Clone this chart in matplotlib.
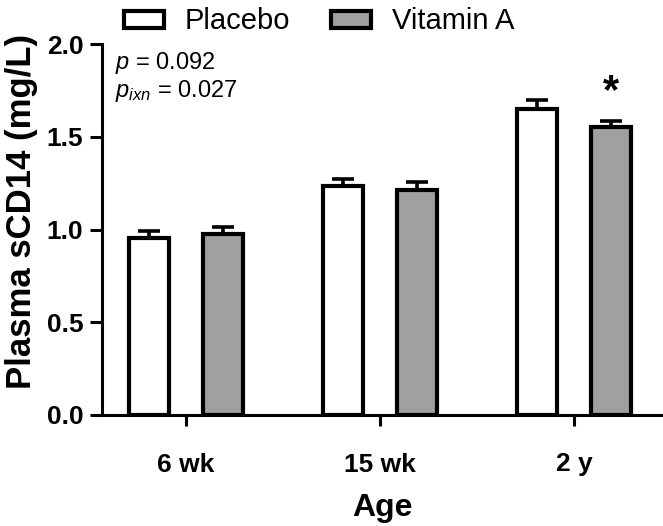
import matplotlib
matplotlib.use('Agg')
import matplotlib.pyplot as plt
from matplotlib.patches import Patch
import numpy as np

ages = ['6 wk', '15 wk', '2 y']
series_names = ['Placebo', 'Vitamin A']
placebo = [0.955, 1.235, 1.652]
placebo_err = [0.037, 0.037, 0.046]
vitamin_a = [0.977, 1.213, 1.55]
vitamin_a_err = [0.038, 0.045, 0.035]
yticks = [0.0, 0.5, 1.0, 1.5, 2.0]
ytick_labels = ['0.0', '0.5', '1.0', '1.5', '2.0']

fam = 'Liberation Sans'
plt.rcParams['font.family'] = [fam, 'DejaVu Sans']
plt.rcParams['mathtext.fontset'] = 'custom'
plt.rcParams['mathtext.rm'] = fam
plt.rcParams['mathtext.it'] = fam + ':italic'

W, H = 663, 526
fig = plt.figure(figsize=(W / 100, H / 100), dpi=100)
ax = fig.add_axes([102 / W, 1 - 415 / H, (W - 102) / W, (415 - 44) / H])

x = np.arange(len(ages))
off = 0.19
bw = 0.205
grey = '#a0a0a0'
edge_lw = 3.0

ax.bar(x - off, placebo, bw, color='white', edgecolor='black', linewidth=edge_lw, zorder=2)
ax.bar(x + off, vitamin_a, bw, color=grey, edgecolor='black', linewidth=edge_lw, zorder=2)
zeros = np.zeros(len(ages))
ax.errorbar(x - off, placebo, yerr=[zeros, placebo_err], fmt='none', ecolor='black',
            elinewidth=2.6, capsize=8, capthick=2.6, zorder=3)
ax.errorbar(x + off, vitamin_a, yerr=[zeros, vitamin_a_err], fmt='none', ecolor='black',
            elinewidth=2.6, capsize=8, capthick=2.6, zorder=3)

ax.set_xlim(-0.433, 2.459)
ax.set_ylim(0, 2.0)
ax.set_yticks(yticks)
ax.set_yticklabels(ytick_labels)
ax.set_xticks(x)
ax.set_xticklabels(ages)
for s in ['top', 'right']:
    ax.spines[s].set_visible(False)
for s in ['left', 'bottom']:
    ax.spines[s].set_linewidth(2.2)
ax.tick_params(axis='y', length=8.5, width=2.2, pad=5, labelsize=19)
ax.tick_params(axis='x', length=8, width=2.2, pad=19, labelsize=19)
for lab in ax.get_xticklabels() + ax.get_yticklabels():
    lab.set_fontweight('bold')

ax.set_ylabel('Plasma sCD14 (mg/L)', fontsize=25, fontweight='bold', labelpad=6)
ax.yaxis.label.set_y(0.55)
ax.set_xlabel('Age', fontsize=23, fontweight='bold', labelpad=12)

ax.text(x[2] + off, vitamin_a[2] + vitamin_a_err[2] + 0.05, '*', ha='center', va='bottom',
        fontsize=30, fontweight='bold')

fig.text(115 / W, 1 - 69 / H, '$p$ = 0.092', fontsize=17, ha='left', va='baseline')
fig.text(115 / W, 1 - 97 / H, '$p_{ixn}$ = 0.027', fontsize=17, ha='left', va='baseline')

handles = [Patch(facecolor='white', edgecolor='black', linewidth=3),
           Patch(facecolor=grey, edgecolor='black', linewidth=3)]
fig.legend(handles, series_names, loc='upper left', bbox_to_anchor=(112 / W, 1.008), ncol=2,
           frameon=False, fontsize=21, handlelength=1.38, handleheight=0.52,
           handletextpad=0.72, columnspacing=1.38, borderaxespad=0)

fig.savefig('out.png', dpi=100)
